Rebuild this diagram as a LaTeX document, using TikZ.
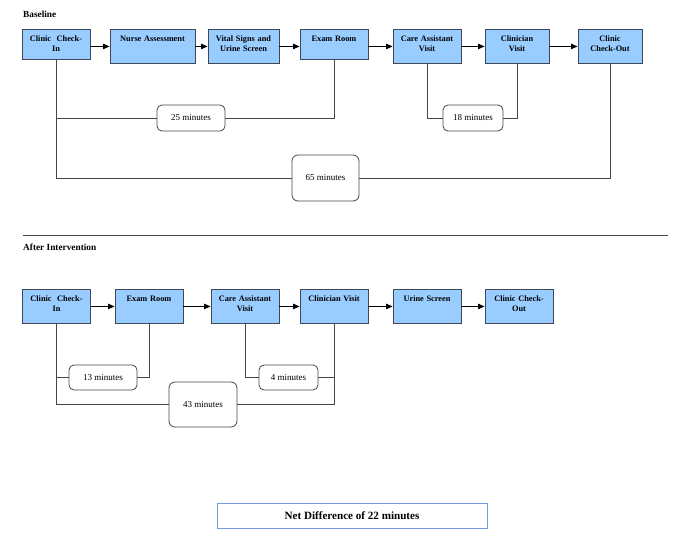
\documentclass[tikz,border=0pt]{standalone}
\usepackage{fontspec}
\setmainfont{Liberation Serif}
\usetikzlibrary{arrows.meta}

\definecolor{stepfill}{RGB}{153,204,255}
\definecolor{stepline}{RGB}{62,72,88}
\definecolor{spanline}{RGB}{70,70,70}
\definecolor{netline}{RGB}{120,150,225}

\tikzset{
  stepbox/.style={rectangle, draw=stepline, fill=stepfill, line width=0.9pt, anchor=north,
    minimum width=68pt, text width=62pt, align=center, inner xsep=2pt, inner ysep=3.5pt,
    text height=9pt, text depth=18pt, font=\fontsize{8.3}{10}\selectfont\bfseries},
  short/.style={text depth=14pt},
  narrow/.style={minimum width=64pt, text width=58pt},
  timebox/.style={rectangle, rounded corners=5pt, draw=spanline, fill=white, line width=0.8pt,
    minimum width=68pt, minimum height=26pt, font=\fontsize{9}{11}\selectfont},
  heading/.style={anchor=west, inner sep=0pt, font=\fontsize{9.3}{11}\selectfont\bfseries},
  flow/.style={->, line width=0.8pt},
  span/.style={draw=spanline, line width=0.8pt}
}

\begin{document}
\begin{tikzpicture}[x=1pt, y=-1pt, >={Triangle[length=6.5pt,width=5.5pt]}]
    \useasboundingbox (0,0) rectangle (685,538);

    % baseline
    \node[heading] (hbase) at (23,14) {Baseline};
    \node[stepbox,short] (bci) at (56,29) {Clinic\ \ Check-\\In};
    \node[stepbox,minimum width=85pt,text width=79pt] (bnurse) at (152.5,29) {Nurse Assessment};
    \node[stepbox,minimum width=71pt,text width=65pt] (bvital) at (243.5,29) {Vital Signs and\\Urine Screen};
    \node[stepbox,short] (bexam) at (334,29) {Exam Room};
    \node[stepbox] (bcare) at (427,29) {Care Assistant\\Visit};
    \node[stepbox,narrow] (bclin) at (517,29) {Clinician\\Visit};
    \node[stepbox,narrow] (bout) at (610,29) {Clinic\\Check-Out};

    \draw[flow] (bnurse.west -| bci.east) -- (bnurse.west);
    \draw[flow] (bnurse.east) -- (bvital.west);
    \draw[flow] (bvital.east) -- (bvital.east -| bexam.west);
    \draw[flow] (bvital.east -| bexam.east) -- (bcare.west);
    \draw[flow] (bcare.east) -- (bclin.west);
    \draw[flow] (bclin.east) -- (bout.west);

    \node[timebox] (t25) at (191,118) {25 minutes};
    \node[timebox,minimum width=60pt] (t18) at (473,118) {18 minutes};
    \node[timebox,minimum width=67pt,minimum height=46pt,rounded corners=6pt] (t65) at (325.5,178) {65 minutes};

    \draw[span] (bci.south) |- (t25.west);
    \draw[span] (t25.east) -| (bexam.south);
    \draw[span] (bcare.south) |- (t18.west);
    \draw[span] (t18.east) -| (bclin.south);
    \draw[span] (bci.south) |- (t65.west);
    \draw[span] (t65.east) -| (bout.south);

    % divider
    \coordinate (divl) at (23,235.5);
    \coordinate (divr) at (668,235.5);
    \draw[draw=spanline, line width=1.1pt] (divl) -- (divr);

    % after intervention
    \node[heading] (hafter) at (23,247) {After Intervention};
    \node[stepbox] (aci) at (56.5,289) {Clinic\ \ Check-\\In};
    \node[stepbox] (aexam) at (149,289) {Exam Room};
    \node[stepbox] (acare) at (245,289) {Care Assistant\\Visit};
    \node[stepbox] (aclin) at (334,289) {Clinician Visit};
    \node[stepbox] (aurine) at (427,289) {Urine Screen};
    \node[stepbox] (aout) at (519,289) {Clinic Check-\\Out};

    \draw[flow] (aci.east) -- (aexam.west);
    \draw[flow] (aexam.east) -- (acare.west);
    \draw[flow] (acare.east) -- (aclin.west);
    \draw[flow] (aclin.east) -- (aurine.west);
    \draw[flow] (aurine.east) -- (aout.west);

    \node[timebox,minimum height=25pt] (t13) at (103,377.5) {13 minutes};
    \node[timebox,minimum width=59pt,minimum height=25pt] (t4) at (288.5,377.5) {4 minutes};
    \node[timebox,minimum height=45pt,rounded corners=6pt] (t43) at (203,404.5) {43 minutes};

    \draw[span] (aci.south) |- (t13.west);
    \draw[span] (t13.east) -| (aexam.south);
    \draw[span] (acare.south) |- (t4.west);
    \draw[span] (t4.east) -| (aclin.south);
    \draw[span] (aci.south) |- (t43.west);
    \draw[span] (t43.east) -| (aclin.south);

    % net result
    \node[rectangle, draw=netline, line width=0.8pt, minimum width=270pt, minimum height=25pt,
      font=\fontsize{11.1}{13}\selectfont\bfseries] (net) at (352,515.5) {Net Difference of 22 minutes};
\end{tikzpicture}
\end{document}
